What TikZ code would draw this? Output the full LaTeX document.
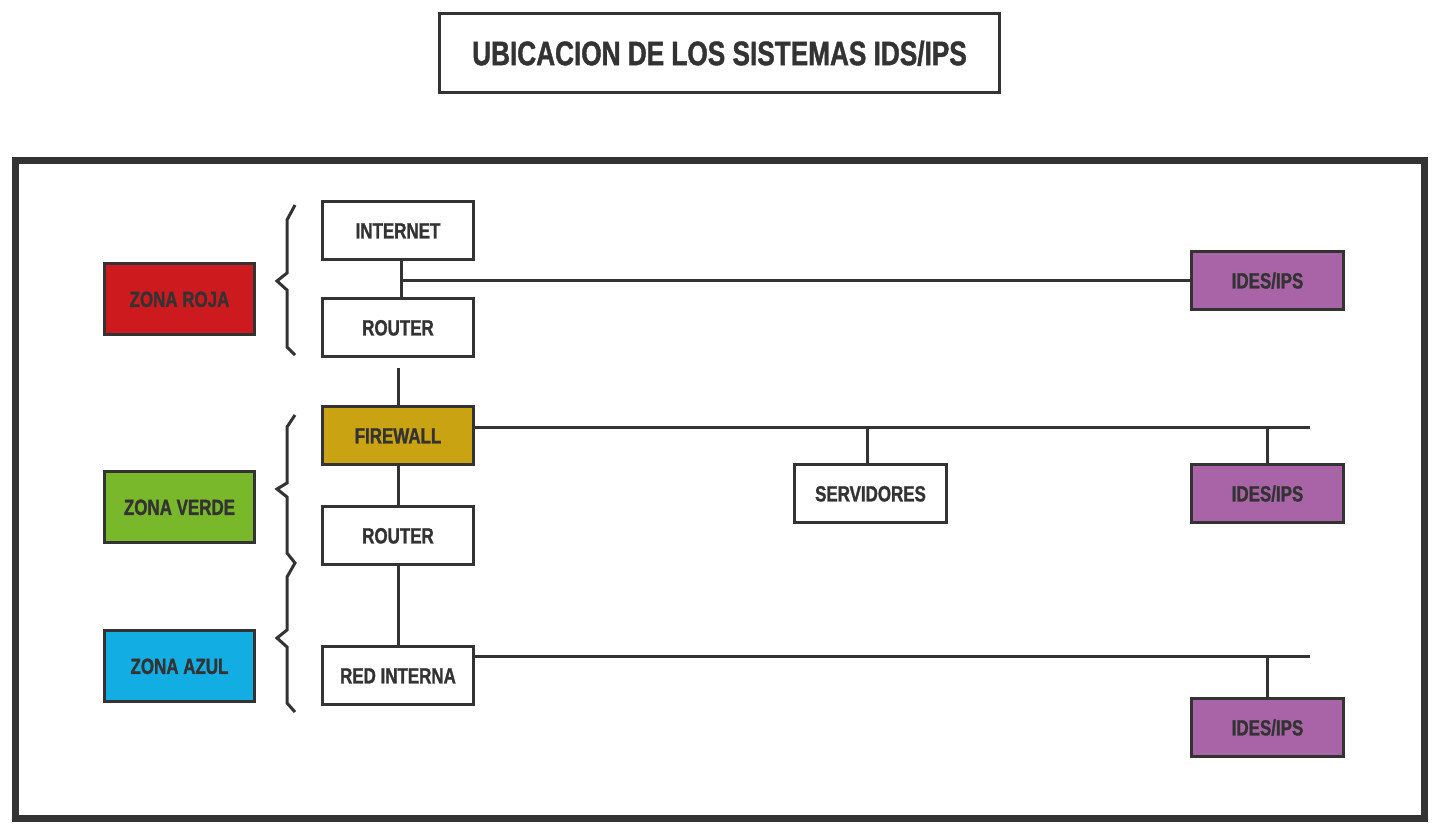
\documentclass[tikz,border=0pt]{standalone}
\usepackage{fontspec}
\newfontfamily\cond{Liberation Sans}[FakeStretch=0.77, FakeBold=1.2]
\definecolor{ink}{HTML}{333333}
\definecolor{zred}{HTML}{CC1A1F}
\definecolor{zgreen}{HTML}{79B72B}
\definecolor{zblue}{HTML}{12AEE3}
\definecolor{zgold}{HTML}{C9A312}
\definecolor{zpurple}{HTML}{A864A6}
\tikzset{
  box/.style={draw=ink, line width=3pt, fill=white, minimum width=151pt, minimum height=58pt,
    inner sep=0pt, text=ink, font=\cond\bfseries\fontsize{22}{22}\selectfont,
    text height=15.8pt, text depth=0pt},
  zone/.style={box, minimum width=150pt, minimum height=71pt},
  ids/.style={box, fill=zpurple, minimum width=152pt},
  wire/.style={draw=ink, line width=3pt},
  brace/.style={draw=ink, line width=3pt, line join=miter}
}
\begin{document}
\begin{tikzpicture}[x=1pt,y=-1pt]
\useasboundingbox (0,0) rectangle (1442,836);
\fill[white] (0,0) rectangle (1442,836);
% title
\node[draw=ink, line width=3pt, minimum width=560pt, minimum height=79pt, inner sep=0pt,
  text=ink, font=\cond\bfseries\fontsize{34}{34}\selectfont, text height=24.3pt, text depth=0pt]
  (title) at (719.5,53) {UBICACION DE LOS SISTEMAS IDS/IPS};
% frame
\draw[draw=ink, line width=7pt] (15.5,160.5) rectangle (1424.5,818.5);
% main column
\node[box] (internet) at (398,230.5) {INTERNET};
\node[box] (router1) at (398,327.5) {ROUTER};
\node[box, fill=zgold] (firewall) at (398,435.5) {FIREWALL};
\node[box] (router2) at (398,535.5) {ROUTER};
\node[box] (redint) at (398,675.5) {RED INTERNA};
% zones
\node[zone, fill=zred] (zroja) at (179.5,299) {ZONA ROJA};
\node[zone, fill=zgreen] (zverde) at (179.5,507) {ZONA VERDE};
\node[zone, fill=zblue] (zazul) at (179.5,666) {ZONA AZUL};
% ids
\node[ids] (ids1) at (1267.5,280.5) {IDES/IPS};
\node[ids] (ids2) at (1267.5,493.5) {IDES/IPS};
\node[ids] (ids3) at (1267.5,727.5) {IDES/IPS};
\node[box, minimum width=152pt] (serv) at (870.5,493.5) {SERVIDORES};
% connectors
\coordinate (j1) at (401,280);
\draw[wire] ([xshift=3pt]internet.south) -- ([xshift=3pt]router1.north);
\draw[wire] (j1) -- (ids1.west |- j1);
\draw[wire] ([yshift=-10pt]router1.south) -- (firewall.north);
\coordinate (fwend) at (1310,427);
\draw[wire] (firewall.east |- fwend) -- (fwend);
\draw[wire] ([xshift=-3pt]serv.north |- fwend) -- ([xshift=-3pt]serv.north);
\draw[wire] (ids2.north |- fwend) -- (ids2.north);
\draw[wire] (firewall.south) -- (router2.north);
\draw[wire] (router2.south) -- (redint.north);
\coordinate (riend) at (1310,656);
\draw[wire] (redint.east |- riend) -- (riend);
\draw[wire] (ids3.north |- riend) -- (ids3.north);
% braces
\draw[brace] (295,205) -- (287,220) -- (287,273) -- (277,281) -- (287,290) -- (287,347) -- (295,355);
\draw[brace] (295,415) -- (287,427) -- (287,483) -- (277,489) -- (287,497) -- (287,553) -- (295,563)
  -- (287,577) -- (287,630) -- (277,638) -- (287,647) -- (287,703) -- (295,712);
\end{tikzpicture}
\end{document}
